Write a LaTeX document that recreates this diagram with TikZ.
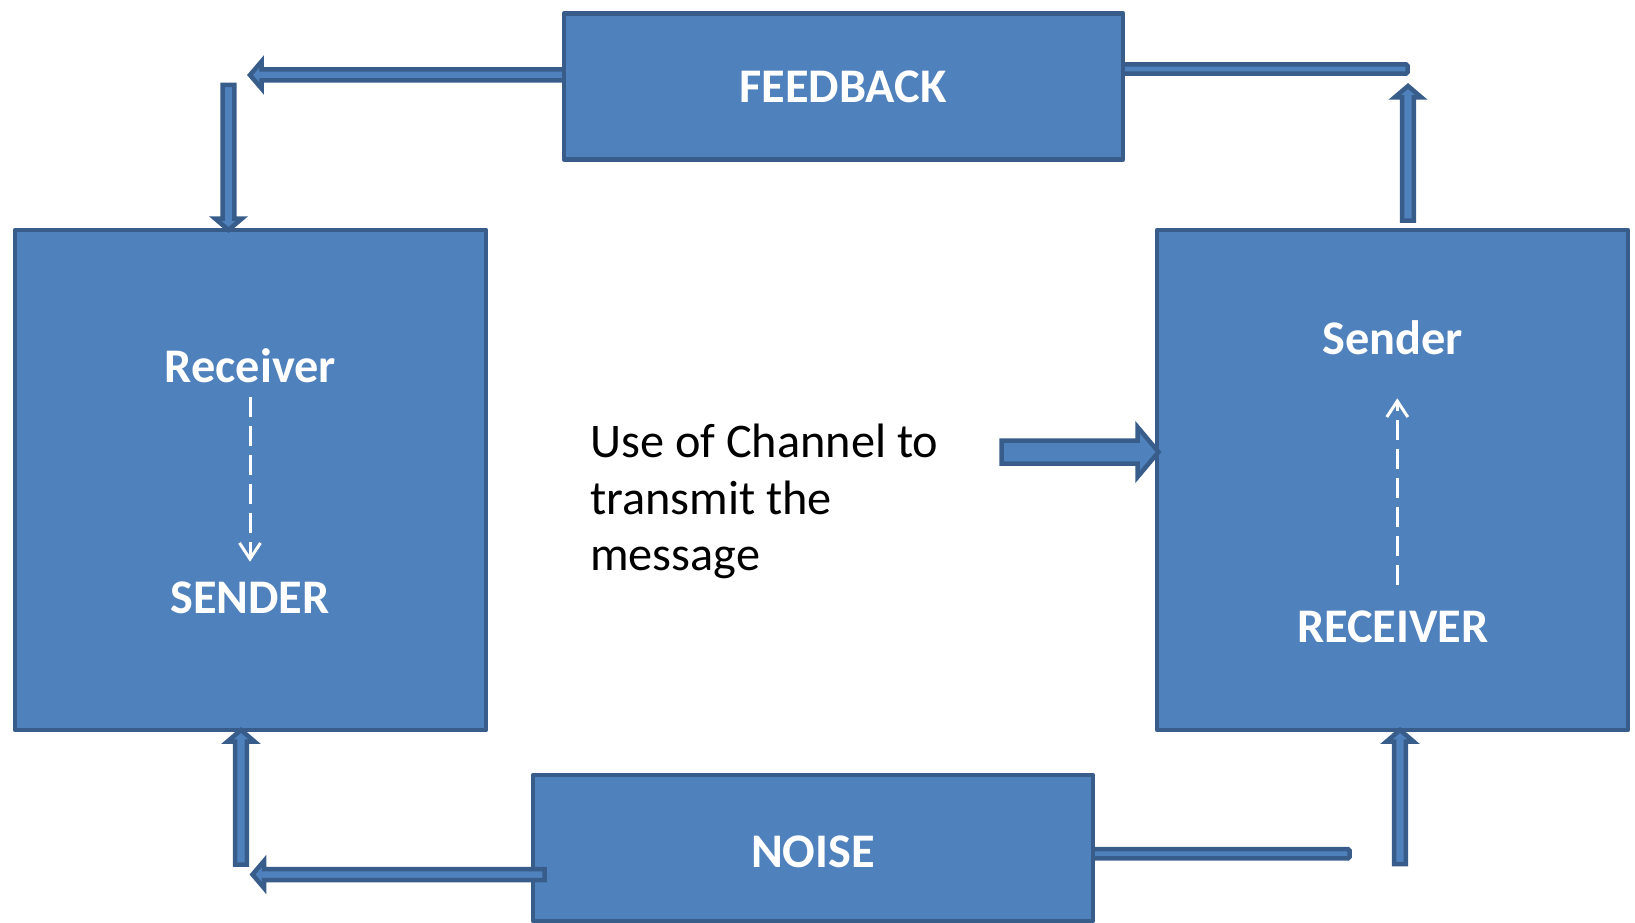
\documentclass[tikz,border=0pt]{standalone}
\usepackage{fontspec}
\setmainfont{Carlito}
\usetikzlibrary{calc,arrows.meta}
\definecolor{boxfill}{HTML}{4F81BD}
\definecolor{boxline}{HTML}{385D8A}
% block arrow: #1 tail, #2 tip, #3 shaft half width, #4 head half width, #5 head length
\newcommand\blockarrow[5]{%
  \coordinate (bahead) at ($(#2)!#5!(#1)$);
  \draw[blk] ($(#1)!#3!90:(#2)$) -- ($(bahead)!#3!90:(#2)$) -- ($(bahead)!#4!90:(#2)$) -- (#2)
    -- ($(bahead)!#4!-90:(#2)$) -- ($(bahead)!#3!-90:(#2)$) -- ($(#1)!#3!-90:(#2)$) -- cycle;
}
% block bar: #1 start, #2 end, #3 half width
\newcommand\blockbar[3]{%
  \draw[blk, rounded corners=1.5pt] ($(#1)!#3!90:(#2)$) -- ($(#2)!#3!-90:(#1)$)
    -- ($(#2)!#3!90:(#1)$) -- ($(#1)!#3!-90:(#2)$) -- cycle;
}
\begin{document}
\begin{tikzpicture}[x=1pt,y=-1pt,
  box/.style={draw=boxline, fill=boxfill, line width=4.5pt, line join=round, rectangle, inner sep=0pt, outer sep=0pt},
  blk/.style={draw=boxline, fill=boxfill, line width=4.5pt, line join=miter, miter limit=4},
  lbl/.style={text=white, font=\fontsize{48.3}{58}\selectfont\bfseries, inner sep=0pt, anchor=base},
  body/.style={text=black, font=\fontsize{48.3}{58}\selectfont, inner sep=0pt, anchor=base west},
  whitedash/.style={draw=white, line width=3pt, dash pattern=on 20pt off 9pt, -{Straight Barb[length=16pt,width=21pt]}}]
\useasboundingbox (0,0) rectangle (1635,923);

% connector end points
\coordinate (a1t) at (570,75);     \coordinate (a1h) at (250,75);
\coordinate (a2t) at (228.5,85);   \coordinate (a2h) at (228.5,230);
\coordinate (a3t) at (1408,220.5); \coordinate (a3h) at (1408,86);
\coordinate (a4t) at (1001.5,452); \coordinate (a4h) at (1158.5,452);
\coordinate (a5t) at (241,864.5);  \coordinate (a5h) at (241,730);
\coordinate (a6t) at (544.5,874.5);\coordinate (a6h) at (252.5,874.5);
\coordinate (a7t) at (1400,864);   \coordinate (a7h) at (1400,730);
\coordinate (b1s) at (1118,69);    \coordinate (b1e) at (1407.5,69);
\coordinate (b2s) at (1088,853.7); \coordinate (b2e) at (1349.5,853.7);
\coordinate (d1s) at (250,397);    \coordinate (d1e) at (250,561.7);
\coordinate (d2s) at (1397.3,585); \coordinate (d2e) at (1397.3,398.3);

% connectors behind the boxes
\blockarrow{a1t}{a1h}{5.5pt}{13.5pt}{11.5pt}
\blockbar{b1s}{b1e}{4.6pt}
\blockbar{b2s}{b2e}{4.6pt}

% boxes
\node[box, minimum width=471pt, minimum height=500pt] (lbox) at (250.5,480) {};
\node[box, minimum width=471pt, minimum height=500pt] (rbox) at (1392.5,480) {};
\node[box, minimum width=559pt, minimum height=146pt] (fbbox) at (843.5,86.5) {};
\node[box, minimum width=560pt, minimum height=146pt] (nbox) at (813,848) {};

% connectors on top
\blockarrow{a6t}{a6h}{5.5pt}{13.5pt}{11.5pt}
\blockarrow{a2t}{a2h}{5.8pt}{13.5pt}{11.5pt}
\blockarrow{a3t}{a3h}{5.8pt}{13.5pt}{11.5pt}
\blockarrow{a5t}{a5h}{5.8pt}{13.5pt}{11.5pt}
\blockarrow{a7t}{a7h}{5.8pt}{13.5pt}{11.5pt}
\blockarrow{a4t}{a4h}{11.5pt}{25pt}{21pt}

% labels
\node[lbl] (fbt) at (843,103) {FEEDBACK};
\node[lbl] (nt) at (813,867) {NOISE};
\node[lbl] (rcv1) at (250.5,382) {Receiver};
\node[lbl] (snd1) at (250,613.5) {SENDER};
\node[lbl] (snd2) at (1392.5,354) {Sender};
\node[lbl] (rcv2) at (1393,642) {RECEIVER};
\node[body] (c1) at (590,457) {Use of Channel to};
\node[body] (c2) at (590,514) {transmit the};
\node[body] (c3) at (590,570.5) {message};

% dashed arrows
\draw[whitedash] (d1s) -- (d1e);
\draw[whitedash] (d2s) -- (d2e);
\end{tikzpicture}
\end{document}
